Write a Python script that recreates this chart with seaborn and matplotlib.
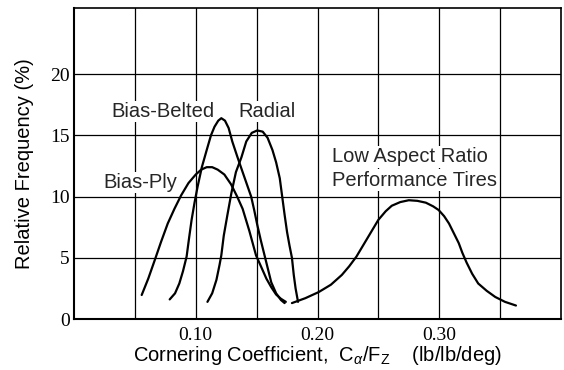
import matplotlib
matplotlib.use("Agg")
import matplotlib.pyplot as plt
import seaborn as sns
import pandas as pd

# ---- data ----
bias_ply_x = [0.0556, 0.0610, 0.0663, 0.0715, 0.0770, 0.0825, 0.0880, 0.0940, 0.1000, 0.1045, 0.1090, 0.1135, 0.1180, 0.1235, 0.1290, 0.1340, 0.1385, 0.1440, 0.1495, 0.1540, 0.1580, 0.1620, 0.1660, 0.1700, 0.1740]
bias_ply_y = [1.96, 3.30, 4.80, 6.30, 7.80, 9.00, 10.10, 11.10, 11.80, 12.20, 12.40, 12.40, 12.20, 11.80, 11.00, 10.00, 9.00, 7.20, 5.20, 4.20, 3.30, 2.60, 2.00, 1.65, 1.40]

bias_belted_x = [0.0786, 0.0830, 0.0865, 0.0895, 0.0925, 0.0945, 0.0966, 0.0990, 0.1015, 0.1050, 0.1090, 0.1125, 0.1154, 0.1185, 0.1210, 0.1240, 0.1270, 0.1300, 0.1340, 0.1385, 0.1420, 0.1455, 0.1480, 0.1505, 0.1535, 0.1565, 0.1595, 0.1620, 0.1660, 0.1700, 0.1730]
bias_belted_y = [1.60, 2.10, 2.90, 3.90, 5.10, 6.60, 8.10, 9.50, 10.80, 12.40, 13.80, 15.00, 15.70, 16.20, 16.40, 16.20, 15.60, 14.50, 13.30, 12.00, 11.00, 10.00, 8.90, 7.70, 6.40, 5.20, 4.00, 3.00, 2.10, 1.55, 1.30]

radial_x = [0.1096, 0.1135, 0.1170, 0.1195, 0.1210, 0.1230, 0.1260, 0.1293, 0.1330, 0.1375, 0.1415, 0.1460, 0.1505, 0.1550, 0.1590, 0.1630, 0.1660, 0.1690, 0.1710, 0.1730, 0.1750, 0.1770, 0.1790, 0.1805, 0.1820, 0.1840]
radial_y = [1.40, 2.10, 3.20, 4.40, 5.20, 6.80, 8.50, 10.30, 12.00, 13.20, 14.50, 15.20, 15.40, 15.30, 14.80, 13.80, 12.80, 11.50, 10.00, 8.50, 7.10, 6.00, 5.00, 3.60, 2.50, 1.40]

low_aspect_x = [0.1790, 0.1900, 0.2010, 0.2110, 0.2200, 0.2260, 0.2320, 0.2380, 0.2440, 0.2500, 0.2560, 0.2610, 0.2680, 0.2750, 0.2820, 0.2890, 0.2950, 0.2995, 0.3040, 0.3080, 0.3120, 0.3160, 0.3190, 0.3225, 0.3270, 0.3320, 0.3390, 0.3460, 0.3540, 0.3630]
low_aspect_y = [1.30, 1.70, 2.20, 2.80, 3.60, 4.30, 5.10, 6.10, 7.10, 8.10, 8.80, 9.25, 9.55, 9.70, 9.65, 9.50, 9.20, 8.90, 8.40, 7.80, 7.00, 6.20, 5.40, 4.60, 3.70, 2.90, 2.30, 1.80, 1.40, 1.10]

series_names = ["Bias-Ply", "Bias-Belted", "Radial", "Low Aspect Ratio"]
x_ticks = [0.05, 0.10, 0.15, 0.20, 0.25, 0.30, 0.35]
x_tick_labels = ["", "0.10", "", "0.20", "", "0.30", ""]
y_ticks = [0, 5, 10, 15, 20]
y_tick_labels = ["0", "5", "10", "15", "20"]

frames = []
for name, xs, ys in zip(series_names,
                        [bias_ply_x, bias_belted_x, radial_x, low_aspect_x],
                        [bias_ply_y, bias_belted_y, radial_y, low_aspect_y]):
    frames.append(pd.DataFrame({"x": xs, "y": ys, "series": name}))
df = pd.concat(frames, ignore_index=True)

# ---- style ----
sns.set_theme(style="white")
plt.rcParams["font.family"] = ["Liberation Sans", "DejaVu Sans"]
plt.rcParams["mathtext.fontset"] = "custom"
plt.rcParams["mathtext.rm"] = "Liberation Sans"
plt.rcParams["mathtext.it"] = "Liberation Sans:italic"

fig = plt.figure(figsize=(5.64, 3.70), dpi=100)
ax = fig.add_axes([74 / 564, 1 - 319 / 370, (561 - 74) / 564, (319 - 8) / 370])

for name in series_names:
    sub = df[df["series"] == name]
    sns.lineplot(data=sub, x="x", y="y", sort=False, estimator=None,
                 color="black", linewidth=1.6, ax=ax, legend=False)

ax.set_xlim(0, 0.40)
ax.set_ylim(0, 25.4)
ax.set_xticks(x_ticks)
ax.set_xticklabels(x_tick_labels, family="Liberation Serif", fontsize=14)
ax.set_yticks(y_ticks)
ax.set_yticklabels(y_tick_labels, family="Liberation Serif", fontsize=14)
ax.tick_params(axis="both", length=0, colors="black")
ax.tick_params(axis="x", pad=6)
ax.tick_params(axis="y", pad=3)
ax.grid(True, color="black", linewidth=0.9)
ax.set_axisbelow(True)
for side, sp in ax.spines.items():
    sp.set_visible(True)
    sp.set_color("black")
    sp.set_linewidth(1.5 if side in ("left", "bottom") else 1.2)

ax.set_xlabel(r"Cornering Coefficient,  C$_\alpha$/F$_\mathrm{Z}$    (lb/lb/deg)",
              fontsize=14.5, color="black", labelpad=0)
ax.set_ylabel("Relative Frequency (%)", fontsize=14.5, color="black", labelpad=12)

box = dict(facecolor="white", edgecolor="none", pad=1.0)
fs = 14.5
ax.text(0.0311, 16.5, "Bias-Belted", fontsize=fs, va="baseline", ha="left", bbox=box)
ax.text(0.135, 16.5, "Radial", fontsize=fs, va="baseline", ha="left", bbox=box)
ax.text(0.0245, 10.7, "Bias-Ply", fontsize=fs, va="baseline", ha="left", bbox=box)
ax.text(0.212, 12.8, "Low Aspect Ratio", fontsize=fs, va="baseline", ha="left", bbox=box)
ax.text(0.212, 10.9, "Performance Tires", fontsize=fs, va="baseline", ha="left", bbox=box)

fig.savefig("out.png", dpi=100)
